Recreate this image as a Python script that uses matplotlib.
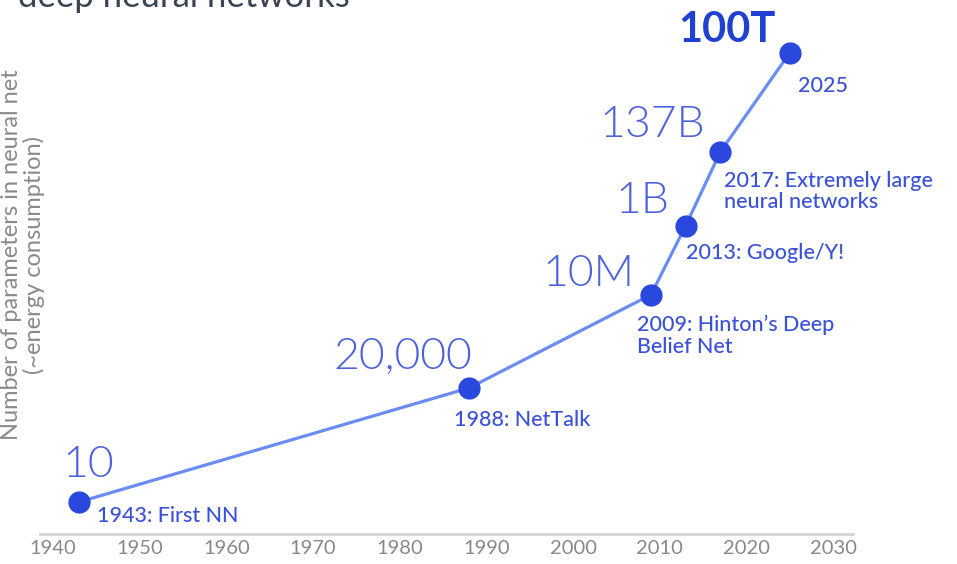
import numpy as np
import matplotlib
matplotlib.use('Agg')
import matplotlib.pyplot as plt

# Growth in number of parameters of neural networks
years = [1943, 1988, 2009, 2013, 2017, 2025]
params = [10, 20000, 1e7, 1e9, 137e9, 100e12]
value_labels = ['10', '20,000', '10M', '1B', '137B', '100T']
event_labels = ['1943: First NN', '1988: NetTalk', '2009: Hinton\u2019s Deep\nBelief Net',
                '2013: Google/Y!', '2017: Extremely large\nneural networks', '2025']
decade_ticks = list(range(1940, 2031, 10))

plt.rcParams['font.family'] = ['Lato', 'DejaVu Sans']

LINE = '#6b8cf2'
DOT = '#2a48de'
TXT = '#3a51d8'
BIG = '#4c62dc'

fig = plt.figure(figsize=(9.57, 5.64), dpi=100)
ax = fig.add_axes([40 / 957, 1 - 534 / 564, 813 / 957, 534 / 564])

ax.plot(years, params, color=LINE, lw=2.3, zorder=2)
ax.plot(years, params, 'o', color=DOT, ms=15, zorder=3)

ax.set_yscale('log')
ax.set_ylim(10 ** 0.0735, 10 ** 15.53)
ax.set_xlim(1938.5, 2032.3)

# offsets (pixels) of the value label and the event label from each point
val_off = [(-17, 25, 'left'), (3, 19, 'right'), (-17, 9, 'right'),
           (-16, 13, 'right'), (-15, 15, 'right'), (-14, 11, 'right')]
evt_off = [(18, -20, 'baseline'), (-15, -38, 'baseline'), (-14, -20, 'top'),
           (0, -33, 'baseline'), (4, -19, 'top'), (8, -39, 'baseline')]

for i, (x, y) in enumerate(zip(years, params)):
    dx, dy, ha = val_off[i]
    last = i == len(years) - 1
    ax.annotate(value_labels[i], (x, y), xytext=(dx, dy),
                textcoords='offset pixels', ha=ha, va='baseline',
                fontsize=32 if not last else 30,
                fontweight='bold' if last else 300,
                color='#2040d2' if last else BIG, annotation_clip=False)
    dx, dy, va = evt_off[i]
    ax.annotate(event_labels[i], (x, y), xytext=(dx, dy),
                textcoords='offset pixels', ha='left', va=va,
                fontsize=15.5, fontweight=500, color=TXT, linespacing=1.1,
                annotation_clip=False)

for s in ['top', 'right', 'left']:
    ax.spines[s].set_visible(False)
ax.spines['bottom'].set_color('#d4d4d4')
ax.spines['bottom'].set_linewidth(2)
ax.set_yticks([])
ax.minorticks_off()
ax.set_xticks(decade_ticks)
ax.tick_params(axis='x', length=0, pad=4, labelsize=14.5, labelcolor='#888888')
ax.patch.set_alpha(0)

fig.text(23 / 957, 1 - 255 / 564,
         'Number of parameters in neural net\n(~energy consumption)',
         rotation=90, ha='center', va='center', multialignment='center',
         fontsize=17, color='#8a8a8a', linespacing=1.0)

# heading, mostly cut off by the top edge
fig.text(18 / 957, 1 - 7 / 564, 'deep neural networks', ha='left',
         va='baseline', fontsize=25, color='#3b4256')

fig.savefig('out.png', dpi=100)
